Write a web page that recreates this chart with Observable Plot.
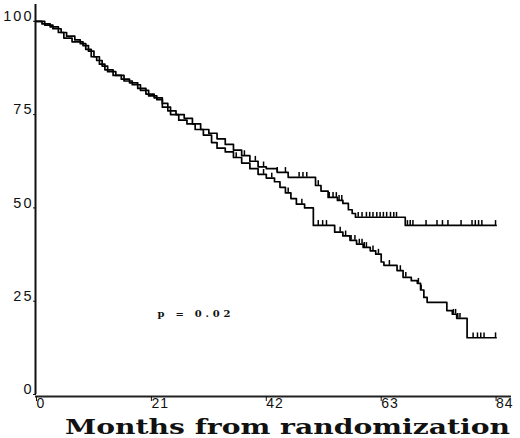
<!DOCTYPE html>
<html><head><meta charset="utf-8">
<script src="https://cdn.jsdelivr.net/npm/d3@7"></script>
<script src="https://cdn.jsdelivr.net/npm/@observablehq/plot@0.6"></script>
<style>body{margin:0;background:#fff}</style>
</head><body><div id="chart"></div>
<script>
// Group A (upper curve): event times (months) and survival (%)
const timesA = [0, 1, 2.5, 4, 5, 6.5, 8.5, 9.5, 10.5, 11.5, 12.5, 14, 15.5, 17, 18.5, 20, 21.5, 23, 24, 25.5, 27, 28.5, 30, 31.5, 33, 34.5, 36, 37.5, 39, 40.5, 42, 44, 46, 51, 52, 53.3, 55, 56, 57, 57.7, 58.3, 67.4, 84];
const survA  = [100, 99.3, 98.5, 97, 95.5, 94.5, 93.5, 92, 90.5, 88.5, 87, 85.5, 84.5, 83.5, 82, 80.5, 79.5, 78, 76, 75, 74, 72.5, 71, 70, 68.5, 67, 65.5, 64, 62.5, 61, 60.5, 59.5, 58.2, 56, 54.5, 52.8, 52, 51.2, 49.5, 48.5, 47.5, 45.3, 45.3];
// Group B (lower curve)
const timesB = [0, 1.5, 3, 4.5, 5.5, 7, 8, 9, 10, 11, 12, 13, 14.5, 16, 17.5, 19, 20.5, 22, 23, 24.5, 26, 27.5, 29, 30.5, 32, 33, 34.5, 36, 37.5, 39, 40.5, 42, 43.5, 44.5, 45.5, 46.5, 47.5, 49, 50.6, 54.5, 56, 57.3, 58.5, 59.7, 61, 62, 63, 63.5, 65.9, 67, 68.5, 69.6, 70.2, 70.8, 71.4, 75, 76, 76.8, 78.7, 84];
const survB  = [100, 99, 98, 97, 96, 95, 94, 92.5, 90.5, 89.5, 88, 86.5, 85.5, 84, 83, 81.5, 80, 79, 77, 75, 73.5, 72.5, 71, 69.5, 67.5, 66, 65, 63.5, 62, 60.5, 59, 58, 57, 55.5, 54, 52.5, 51, 50, 45.3, 43.5, 42.5, 41.3, 40.3, 39.4, 38.5, 37.6, 35.5, 34.6, 33.2, 31.4, 30.5, 29.8, 28, 26, 24.7, 22.5, 21.5, 20.4, 15.2, 15.2];
// Censoring times (months)
const censorA = [38, 40, 41.5, 44, 45.5, 48, 48.7, 49.4, 51.5, 53.5, 54.2, 54.8, 55.3, 55.8, 58.8, 59.5, 60.3, 60.9, 61.5, 62.2, 62.8, 63.4, 64, 64.7, 65.3, 65.8, 67.8, 68.3, 68.8, 71.2, 73.2, 74.2, 75.2, 77.6, 79.6, 80.2, 80.8, 81.4, 83.9];
const censorB = [36.5, 41.5, 43, 46, 48.5, 51.5, 52.3, 53, 55.5, 56.5, 57.5, 58.2, 59, 59.5, 59.9, 60.3, 61.5, 62.5, 64.5, 66.5, 67.5, 69.8, 70.3, 76.2, 76.6, 77, 77.4, 79.8, 80.6, 81.2, 81.8, 83.9];
const xTicks = [0, 21, 42, 63, 84];
const yTicks = [0, 25, 50, 75, 100];
const xLabel = "Months from randomization";
const pLabel = "p = 0.02";

function survAt(times, surv, t) {
  let s = surv[0];
  for (let i = 0; i < times.length; i++) if (times[i] <= t) s = surv[i];
  return s;
}
const rowsA = timesA.map((t, i) => ({t, s: survA[i]}));
const rowsB = timesB.map((t, i) => ({t, s: survB[i]}));
const cA = censorA.map(t => ({t, s: survAt(timesA, survA, t)}));
const cB = censorB.map(t => ({t, s: survAt(timesB, survB, t)}));

const sans = "Liberation Sans, Arial, sans-serif";
const serif = "DejaVu Serif, serif";

const chart = Plot.plot({
  width: 520, height: 438,
  marginLeft: 36, marginRight: 8, marginTop: 4, marginBottom: 44,
  x: {domain: [0, 87], axis: null},
  y: {domain: [0, 104.5], axis: null},
  style: {background: "white", color: "#111", fontFamily: sans},
  marks: [
    Plot.ruleX([0], {y1: 0, y2: 104.5, dx: -1, stroke: "#111", strokeWidth: 2}),
    Plot.ruleY([0], {x1: 0, x2: 87, dy: 2, dx: -1, stroke: "#222", strokeWidth: 2}),
    Plot.axisY(yTicks, {tickSize: 3, text: null, label: null, stroke: "#111"}),
    Plot.axisY(yTicks, {tickSize: 0, tickPadding: 3, dy: -5, label: null, fontSize: 14.5, fill: "#111"}),
    Plot.axisX(xTicks, {tickSize: 5, text: null, label: null, dy: 2, stroke: "#111"}),
    Plot.axisX(xTicks, {tickSize: 0, tickPadding: 4, textAnchor: "start", dx: 0, label: null, fontSize: 14, fill: "#111"}),
    Plot.line(rowsA, {x: "t", y: "s", curve: "step-after", stroke: "#000", strokeWidth: 1.7}),
    Plot.line(rowsB, {x: "t", y: "s", curve: "step-after", stroke: "#000", strokeWidth: 1.7}),
    Plot.ruleX(cA, {x: "t", y1: "s", y2: d => d.s + 1.3, stroke: "#000", strokeWidth: 1.5}),
    Plot.ruleX(cB, {x: "t", y1: "s", y2: d => d.s + 1.3, stroke: "#000", strokeWidth: 1.5}),
    Plot.text([pLabel], {x: 22.1, y: 21.5, textAnchor: "start", fontSize: 10, fontWeight: "bold", fontFamily: serif, fill: "#111"}),
    Plot.text([xLabel], {frameAnchor: "bottom", dx: 13, dy: 39, lineAnchor: "bottom", fontSize: 20.5, fontWeight: "bold", fontFamily: serif, fill: "#111"})
  ]
});
const svg = d3.select(chart);
svg.selectAll("text").each(function() {
  const el = d3.select(this);
  const txt = this.textContent;
  const parentLabel = this.parentNode && this.parentNode.getAttribute("aria-label") || "";
  if (txt === xLabel) el.attr("textLength", 445).attr("lengthAdjust", "spacingAndGlyphs");
  else if (txt === pLabel) el.attr("textLength", 73).attr("lengthAdjust", "spacing");
  else if (parentLabel.startsWith("y-axis")) el.attr("letter-spacing", 2);
  else if (parentLabel.startsWith("x-axis")) el.attr("letter-spacing", 1);
});
document.getElementById("chart").appendChild(chart);
</script>
</body></html>
